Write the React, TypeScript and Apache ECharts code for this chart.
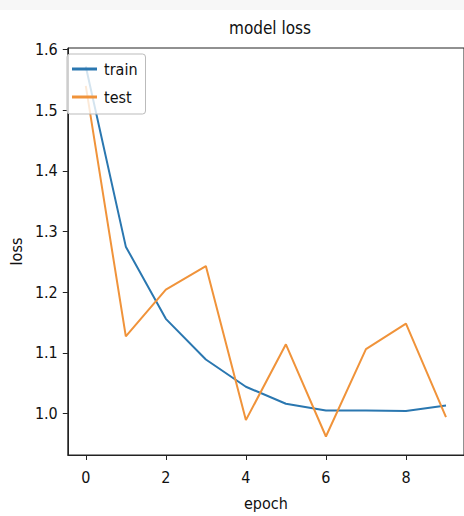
import React, { useEffect, useRef } from "react";
import * as echarts from "echarts";

const epochs = [0, 1, 2, 3, 4, 5, 6, 7, 8, 9];
const trainLoss = [1.572, 1.275, 1.156, 1.089, 1.044, 1.016, 1.005, 1.005, 1.004, 1.013];
const testLoss = [1.54, 1.127, 1.204, 1.243, 0.989, 1.114, 0.962, 1.106, 1.148, 0.994];
const xTicks = [0, 2, 4, 6, 8];
const yTicks = [1.0, 1.1, 1.2, 1.3, 1.4, 1.5, 1.6];

const FONT = "'DejaVu Sans Condensed', 'Liberation Sans Narrow', 'DejaVu Sans', sans-serif";

export default function App() {
  const ref = useRef<HTMLDivElement>(null);
  useEffect(() => {
    if (!ref.current) return;
    const chart = echarts.init(ref.current, null, { renderer: "svg" });
    chart.setOption({
      animation: false,
      backgroundColor: "#ffffff",
      textStyle: { fontFamily: FONT },
      graphic: [
        { type: "rect", left: 0, top: 0, shape: { width: 464, height: 10 }, style: { fill: "#f7f7f7" }, z: -10 },
      ],
      title: {
        text: "model loss",
        left: 265,
        top: 14,
        textAlign: "center",
        textStyle: { fontFamily: FONT, fontSize: 17, fontWeight: "normal", color: "#111" },
      },
      legend: {
        data: ["train", "test"],
        orient: "vertical",
        left: 67,
        top: 54,
        icon: "rect",
        itemWidth: 25,
        itemHeight: 3,
        itemGap: 12,
        padding: [7, 8, 9, 5],
        borderColor: "#bbbbbb",
        borderWidth: 1,
        borderRadius: 3,
        backgroundColor: "rgba(255,255,255,0.8)",
        textStyle: { fontFamily: FONT, fontSize: 16, color: "#111", padding: [0, 0, 0, 2] },
        z: 10,
      },
      grid: {
        left: 62,
        top: 48,
        right: -5,
        bottom: 61,
        show: true,
        borderColor: "#222",
        borderWidth: 1,
        backgroundColor: "transparent",
      },
      xAxis: {
        type: "value",
        min: -0.45,
        max: 9.45,
        name: "epoch",
        nameLocation: "middle",
        nameGap: 40,
        nameTextStyle: { fontFamily: FONT, fontSize: 16, color: "#111" },
        axisLine: { show: true, onZero: false, lineStyle: { color: "#222", width: 1 } },
        axisTick: { show: true, length: 5, customValues: xTicks, lineStyle: { color: "#222" } },
        axisLabel: {
          customValues: xTicks,
          fontFamily: FONT,
          fontSize: 16,
          color: "#111",
          margin: 14,
        },
        splitLine: { show: false },
      },
      yAxis: {
        type: "value",
        min: 0.9315,
        max: 1.6025,
        name: "loss",
        nameLocation: "middle",
        nameGap: 31,
        nameTextStyle: { fontFamily: FONT, fontSize: 16, color: "#111" },
        axisLine: { show: true, onZero: false, lineStyle: { color: "#222", width: 1 } },
        axisTick: { show: true, length: 5, customValues: yTicks, lineStyle: { color: "#222" } },
        axisLabel: {
          customValues: yTicks,
          formatter: (v: number) => v.toFixed(1),
          fontFamily: FONT,
          fontSize: 16,
          color: "#111",
          margin: 10,
        },
        splitLine: { show: false },
      },
      series: [
        {
          name: "train",
          type: "line",
          data: epochs.map((e, i) => [e, trainLoss[i]]),
          symbol: "none",
          lineStyle: { color: "#2a77b0", width: 2 },
          itemStyle: { color: "#2a77b0" },
        },
        {
          name: "test",
          type: "line",
          data: epochs.map((e, i) => [e, testLoss[i]]),
          symbol: "none",
          lineStyle: { color: "#f0933a", width: 2 },
          itemStyle: { color: "#f0933a" },
        },
      ],
    });
    return () => chart.dispose();
  }, []);
  return (
    <div
      ref={ref}
      style={{ position: "fixed", left: 0, top: 0, width: 464, height: 516 }}
    />
  );
}
